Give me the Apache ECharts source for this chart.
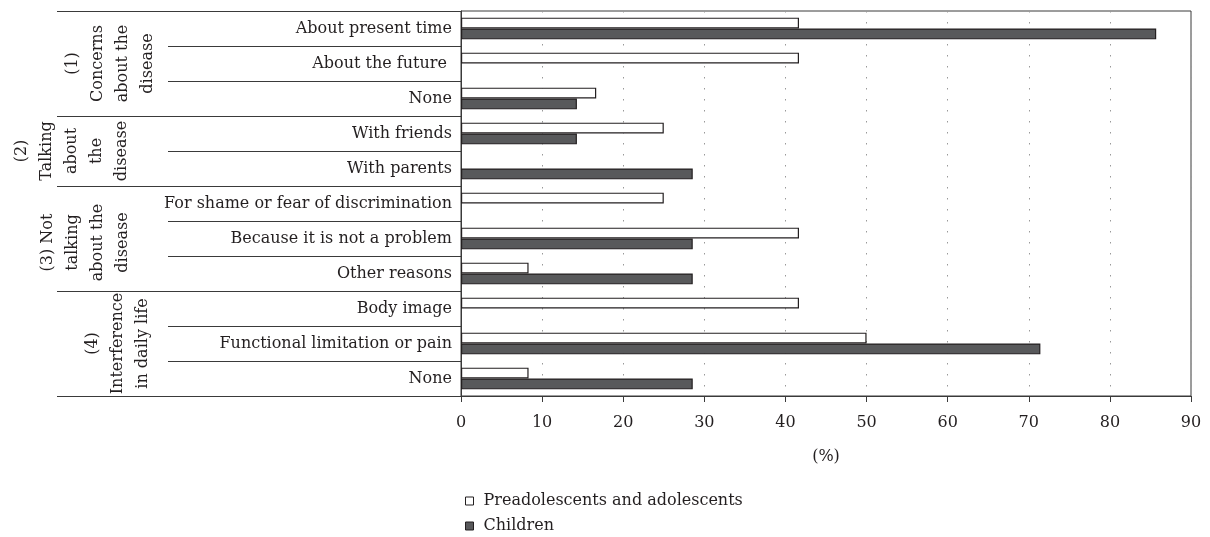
<!DOCTYPE html>
<html><head><meta charset="utf-8">
<script src="https://cdn.jsdelivr.net/npm/echarts@6/dist/echarts.min.js"></script>
<style>html,body{margin:0;padding:0;background:#fff}#c{width:1210px;height:537px}</style>
</head><body><div id="c"></div>
<script>
const categories = ["About present time", "About the future ", "None", "With friends", "With parents",
  "For shame or fear of discrimination", "Because it is not a problem", "Other reasons",
  "Body image", "Functional limitation or pain", "None"];
const seriesNames = ["Preadolescents and adolescents", "Children"];
const adolescents = [41.67, 41.67, 16.67, 25, 0, 25, 41.67, 8.33, 41.67, 50, 8.33];
const children = [85.71, 0, 14.29, 14.29, 28.57, 0, 28.57, 28.57, 0, 71.43, 28.57];
const groupLabels = ["(1)\nConcerns\nabout the\ndisease", "(2)\nTalking\nabout\nthe\ndisease",
  "(3) Not\ntalking\nabout the\ndisease", "(4)\nInterference\nin daily life"];
const groupSizes = [3, 2, 3, 3];
const xTicks = { min: 0, max: 90, step: 10 };
const axisTitle = "(%)";

const FONT = '"DejaVu Serif", "Liberation Serif", serif';
const FS = 16;
const TXT = '#231f20';
const LINE = '#3a3a3a';
const WHITE = '#ffffff', DARK = '#58595b', EDGE = '#231f20';
const noZero = arr => arr.map(v => (v === 0 ? '-' : v));
const chart = echarts.init(document.getElementById('c'), null, { renderer: 'canvas' });
const legendItem = (name, fill, top) => ({
  orient: 'vertical', left: 460, top: top, itemWidth: 8, itemHeight: 8, icon: 'rect',
  textStyle: { fontFamily: FONT, fontSize: FS, color: TXT, padding: [0, 0, 0, 5] },
  data: [{ name: name, itemStyle: { color: fill, borderColor: EDGE, borderWidth: 1 } }]
});
const option = {
  backgroundColor: '#fff',
  animation: false,
  textStyle: { fontFamily: FONT, color: TXT },
  grid: { left: 461, right: 19, top: 11, bottom: 141, show: true, borderColor: LINE, borderWidth: 1 },
  legend: [legendItem(seriesNames[0], WHITE, 488), legendItem(seriesNames[1], DARK, 513)],
  xAxis: {
    type: 'value', min: xTicks.min, max: xTicks.max, interval: xTicks.step,
    name: axisTitle, nameLocation: 'middle', nameGap: 53,
    nameTextStyle: { fontFamily: FONT, fontSize: FS, color: TXT },
    axisLine: { show: true, lineStyle: { color: LINE, width: 1 } },
    axisTick: { show: true, length: 6, lineStyle: { color: LINE } },
    axisLabel: { fontFamily: FONT, fontSize: FS, color: TXT, margin: 19 },
    splitLine: { show: true, lineStyle: { color: '#999', type: [1.5, 9.5], width: 1 } }
  },
  yAxis: {
    type: 'category', data: categories, inverse: true,
    axisLine: { show: true, lineStyle: { color: LINE, width: 1 } },
    axisTick: { show: false },
    axisLabel: { fontFamily: FONT, fontSize: FS, color: TXT, margin: 9 }
  },
  series: [
    { name: seriesNames[0], type: 'bar', data: noZero(adolescents), barCategoryGap: '38%', barGap: '0%',
      itemStyle: { color: WHITE, borderColor: EDGE, borderWidth: 1.2 } },
    { name: seriesNames[1], type: 'bar', data: noZero(children), barCategoryGap: '38%', barGap: '0%',
      itemStyle: { color: DARK, borderColor: EDGE, borderWidth: 1.2 } }
  ]
};
chart.setOption(option);

// table-like group annotations on the left
const yPix = i => chart.convertToPixel({ yAxisIndex: 0 }, i);
const band = yPix(1) - yPix(0);
const bound = i => (i < categories.length ? yPix(i) - band / 2 : yPix(categories.length - 1) + band / 2);
const axisX = chart.convertToPixel({ xAxisIndex: 0 }, xTicks.min);
const tableLeft = 57, innerLeft = 168;
const groupCx = [110, 72, 85, 118];
const groupDy = [0, 0, 4, 0];
const elems = [];
const hline = (x1, y) => ({ type: 'line', shape: { x1: x1, y1: y, x2: axisX, y2: y },
  style: { stroke: LINE, lineWidth: 1.2 }, silent: true });
let idx = 0;
elems.push(hline(tableLeft, Math.round(bound(0)) + 0.5));
groupSizes.forEach((n, g) => {
  const start = idx, end = idx + n;
  for (let k = start + 1; k < end; k++) elems.push(hline(innerLeft, Math.round(bound(k)) + 0.5));
  elems.push(hline(tableLeft, Math.round(bound(end)) + 0.5));
  const cy = (bound(start) + bound(end)) / 2 + groupDy[g];
  elems.push({ type: 'text', x: groupCx[g], y: cy, rotation: Math.PI / 2, silent: true,
    style: { text: groupLabels[g], font: FS + 'px ' + FONT, fill: TXT, align: 'center',
      verticalAlign: 'middle', lineHeight: 25 } });
  idx = end;
});
chart.setOption({ graphic: { elements: elems } });
</script>
</body></html>
